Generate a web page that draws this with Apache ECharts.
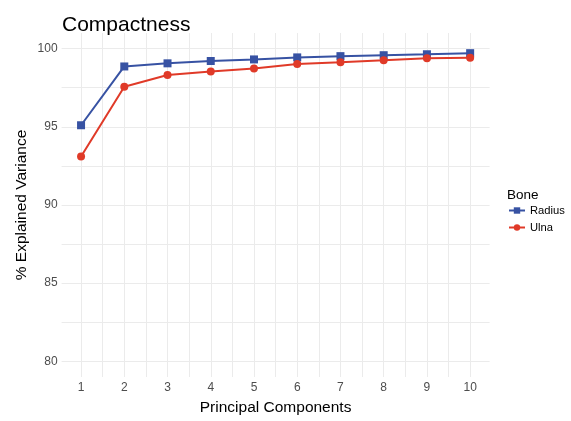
<!DOCTYPE html>
<html>
<head>
<meta charset="utf-8">
<script src="https://cdn.jsdelivr.net/npm/echarts@6/dist/echarts.min.js"></script>
<style>
  html, body { margin: 0; padding: 0; background: #fff; }
  #chart { width: 571px; height: 421px; }
</style>
</head>
<body>
<div id="chart"></div>
<script>
// Cumulative % explained variance by principal component, per bone
const components = [1, 2, 3, 4, 5, 6, 7, 8, 9, 10];
const radius = [95.1, 98.86, 99.06, 99.21, 99.31, 99.44, 99.52, 99.58, 99.64, 99.71];
const ulna = [93.1, 97.56, 98.31, 98.54, 98.73, 99.02, 99.13, 99.25, 99.38, 99.42];

const xTickLabels = [1, 2, 3, 4, 5, 6, 7, 8, 9, 10];
const xGridBreaks = [1, 1.5, 2, 2.5, 3, 3.5, 4, 4.5, 5, 5.5, 6, 6.5, 7, 7.5, 8, 8.5, 9, 9.5, 10];
const yTickLabels = [80, 85, 90, 95, 100];
const yGridBreaks = [80, 82.5, 85, 87.5, 90, 92.5, 95, 97.5, 100];

const FONT = '"Liberation Sans", Arial, sans-serif';
const BLUE = '#3752A3';
const RED = '#E03A28';

const chart = echarts.init(document.getElementById('chart'), null, { renderer: 'canvas' });

chart.setOption({
  backgroundColor: '#ffffff',
  animation: false,
  textStyle: { fontFamily: FONT },
  title: [
    {
      text: 'Compactness',
      left: 62, top: 15, padding: 0,
      textStyle: { fontFamily: FONT, fontSize: 21, fontWeight: 'normal', color: '#000' }
    },
    {
      text: 'Bone',
      left: 507, top: 188, padding: 0,
      textStyle: { fontFamily: FONT, fontSize: 13.5, fontWeight: 'normal', color: '#000' }
    }
  ],
  legend: {
    orient: 'vertical',
    left: 508, top: 205, padding: 0,
    itemWidth: 16, itemHeight: 8, itemGap: 6,
    textStyle: { fontFamily: FONT, fontSize: 11.2, color: '#000' },
    data: ['Radius', 'Ulna']
  },
  grid: { left: 61.6, right: 81.4, top: 33, bottom: 36, containLabel: false },
  xAxis: {
    type: 'value',
    min: 0.55, max: 10.45,
    name: 'Principal Components',
    nameLocation: 'middle',
    nameGap: 23,
    nameMoveOverlap: false,
    nameTextStyle: { fontFamily: FONT, fontSize: 15.5, color: '#000' },
    axisLine: { show: false },
    axisTick: { show: false, customValues: xGridBreaks },
    axisLabel: { customValues: xTickLabels, color: '#4D4D4D', fontSize: 12, fontFamily: FONT, margin: 5 },
    splitLine: { show: true, lineStyle: { color: '#EBEBEB', width: 1 } }
  },
  yAxis: {
    type: 'value',
    min: 79, max: 101,
    name: '% Explained Variance',
    nameLocation: 'middle',
    nameGap: 32,
    nameMoveOverlap: false,
    nameTextStyle: { fontFamily: FONT, fontSize: 15.5, color: '#000' },
    axisLine: { show: false },
    axisTick: { show: false, customValues: yGridBreaks },
    axisLabel: { customValues: yTickLabels, color: '#4D4D4D', fontSize: 12, fontFamily: FONT, margin: 4 },
    splitLine: { show: true, lineStyle: { color: '#EBEBEB', width: 1 } }
  },
  series: [
    {
      name: 'Radius',
      type: 'line',
      data: components.map((c, i) => [c, radius[i]]),
      symbol: 'rect',
      symbolSize: 8,
      itemStyle: { color: BLUE },
      lineStyle: { color: BLUE, width: 2 }
    },
    {
      name: 'Ulna',
      type: 'line',
      data: components.map((c, i) => [c, ulna[i]]),
      symbol: 'circle',
      symbolSize: 8,
      itemStyle: { color: RED },
      lineStyle: { color: RED, width: 2 }
    }
  ]
});
</script>
</body>
</html>
